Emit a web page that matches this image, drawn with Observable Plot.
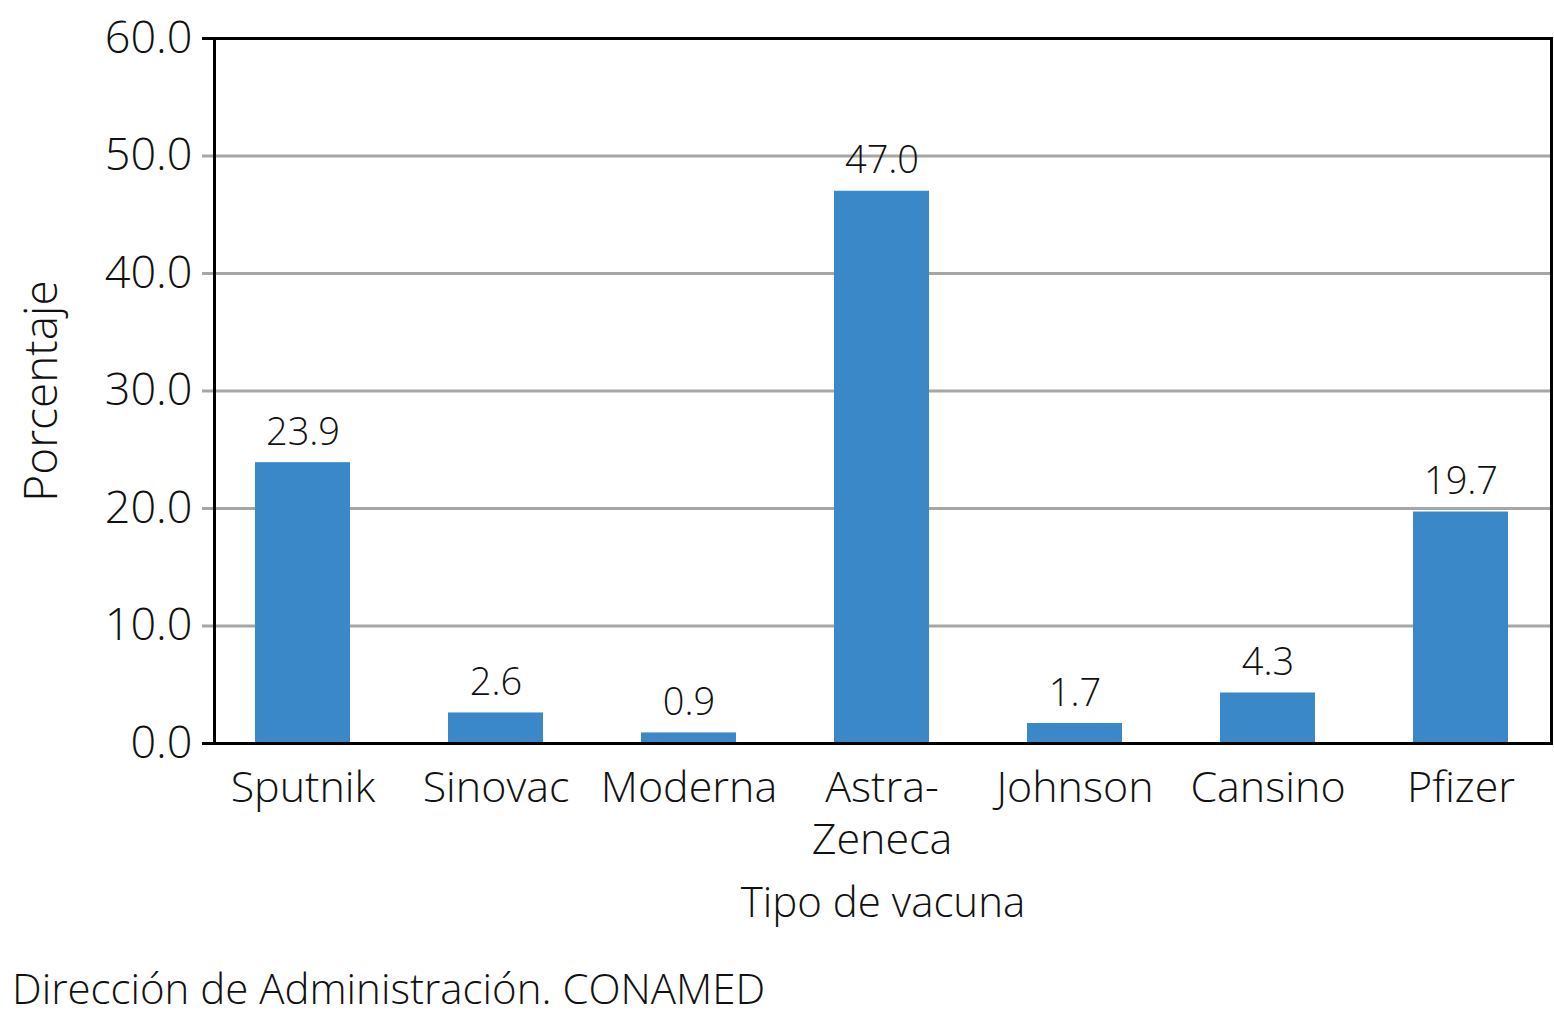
<!DOCTYPE html>
<html>
<head>
<meta charset="utf-8">
<script src="https://cdn.jsdelivr.net/npm/d3@7"></script>
<script src="https://cdn.jsdelivr.net/npm/@observablehq/plot@0.6"></script>
<style>
  body { margin: 0; background: #fff; font-family: "Open Sans", Lato, sans-serif; }
  #chart svg { display: block; }
  .caption { font-family: "Open Sans", Lato, sans-serif; font-weight: 300; font-size: 42px; color: #111; margin: 17px 0 0 12px; line-height: 1; }
</style>
</head>
<body>
<div id="chart"></div>
<div class="caption">Dirección de Administración. CONAMED</div>
<script>
const categories = ["Sputnik", "Sinovac", "Moderna", "Astra-Zeneca", "Johnson", "Cansino", "Pfizer"];
const values = [23.9, 2.6, 0.9, 47.0, 1.7, 4.3, 19.7];
const yTicks = [0, 10, 20, 30, 40, 50, 60];
const xLabel = "Tipo de vacuna";
const yLabel = "Porcentaje";

const data = categories.map((c, i) => ({vacuna: c, pct: values[i]}));
const font = "'Open Sans', Lato, sans-serif";

const chart = Plot.plot({
  width: 1554,
  height: 950,
  marginLeft: 214,
  marginRight: 3,
  marginTop: 38,
  marginBottom: 207,
  style: {fontFamily: font, fontWeight: 300, color: "#111", background: "#fff"},
  x: {domain: categories, range: [204, 1558], paddingInner: 0.51, paddingOuter: 0.255, label: null},
  y: {domain: [0, 60], label: null},
  marks: [
    Plot.gridY(yTicks.filter(d => d > 0 && d < 60), {stroke: "#a6a6a6", strokeWidth: 3, strokeOpacity: 1}),
    Plot.axisY({ticks: yTicks, tickFormat: d => d.toFixed(1), tickSize: 12, tickPadding: 10, fontSize: 45, stroke: (d) => (d === 0 || d === 60) ? "#000" : "#a6a6a6", strokeWidth: 3, label: null}),
    Plot.axisX({tickSize: 0, tickPadding: 22, fontSize: 43, lineHeight: 1.2, tickFormat: d => d.replace("-", "-\n"), label: null}),
    Plot.barY(data, {x: "vacuna", y: "pct", fill: "#3a88c8"}),
    Plot.text(data, {x: "vacuna", y: "pct", text: d => d.pct.toFixed(1), lineAnchor: "bottom", dy: -18, fontSize: 38, fill: "#111"}),
    Plot.frame({stroke: "#000", strokeWidth: 3}),
    Plot.text([xLabel], {frameAnchor: "bottom", dy: 173, fontSize: 42, fill: "#111", text: d => d}),
    Plot.text([yLabel], {frameAnchor: "left", dx: -172, rotate: -90, textAnchor: "middle", fontSize: 46, fill: "#111", text: d => d})
  ]
});
document.getElementById("chart").appendChild(chart);
</script>
</body>
</html>
